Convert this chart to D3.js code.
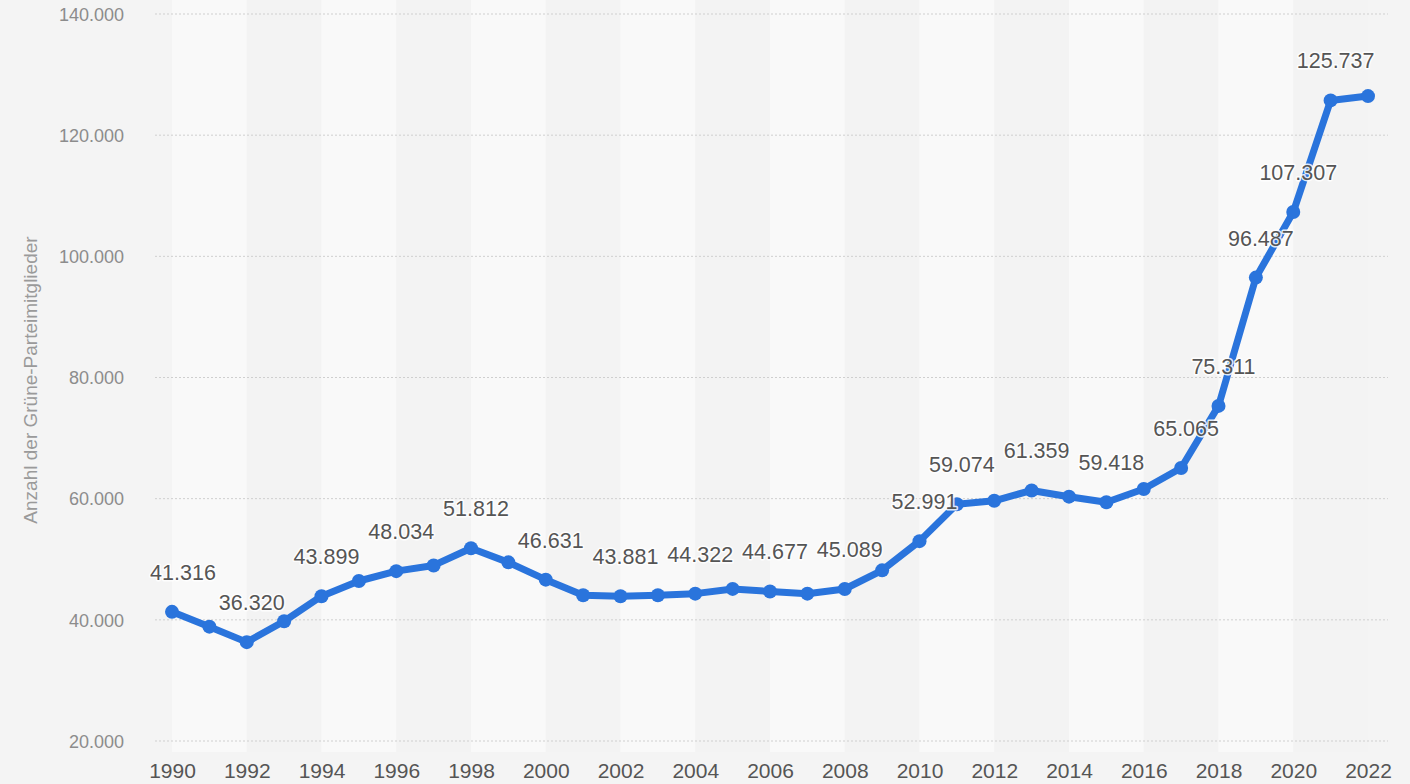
<!DOCTYPE html>
<html>
<head>
<meta charset="utf-8">
<script src="https://cdn.jsdelivr.net/npm/d3@7"></script>
<style>
  html, body { margin: 0; padding: 0; background: #f4f4f4; }
  svg { display: block; font-family: "Liberation Sans", Arial, Helvetica, sans-serif; }
</style>
</head>
<body>
<svg id="chart" width="1410" height="784"></svg>
<script>
const years = [1990,1991,1992,1993,1994,1995,1996,1997,1998,1999,2000,2001,2002,2003,2004,2005,2006,2007,2008,2009,2010,2011,2012,2013,2014,2015,2016,2017,2018,2019,2020,2021,2022];
const members = [41316,38873,36320,39761,43899,46410,48034,48980,51812,49488,46631,44053,43881,44052,44322,45105,44677,44320,45089,48171,52991,59074,59653,61359,60329,59418,61596,65065,75311,96487,107307,125737,126451];
const labeledYears = [1990,1992,1994,1996,1998,2000,2002,2004,2006,2008,2010,2011,2013,2015,2017,2018,2019,2020,2021];
const yTicks = [20000,40000,60000,80000,100000,120000,140000];
const xTicks = [1990,1992,1994,1996,1998,2000,2002,2004,2006,2008,2010,2012,2014,2016,2018,2020,2022];
const yTitle = "Anzahl der Grüne-Parteimitglieder";

const data = years.map((y, i) => ({ year: y, value: members[i] }));
const de = d3.formatLocale({ decimal: ",", thousands: ".", grouping: [3], currency: ["", " €"] });
const fmt = de.format(",.0f");

const svg = d3.select("#chart");
const plotLeft = 155, plotRight = 1388, plotTop = 0, plotBottom = 752;

const x = d3.scaleLinear().domain([1990, 2022]).range([172, 1368]);
const y = d3.scaleLinear().domain([20000, 140000]).range([741, 14]);

// background
svg.append("rect").attr("x", 0).attr("y", 0).attr("width", 1410).attr("height", 784).attr("fill", "#f4f4f4");

// alternating bands
const bandStarts = d3.range(1990, 2022, 2);
svg.append("g").selectAll("rect").data(bandStarts).join("rect")
  .attr("x", d => x(d))
  .attr("y", plotTop)
  .attr("width", d => x(d + 2) - x(d))
  .attr("height", plotBottom - plotTop)
  .attr("fill", (d, i) => i % 2 === 0 ? "#f9f9f9" : "#f3f3f3");

// grid lines
svg.append("g").selectAll("line").data(yTicks).join("line")
  .attr("x1", plotLeft).attr("x2", plotRight)
  .attr("y1", d => y(d)).attr("y2", d => y(d))
  .attr("stroke", "#cfcfcf").attr("stroke-width", 1)
  .attr("stroke-dasharray", "2,2");

// y axis
const yAxis = d3.axisLeft(y).tickValues(yTicks).tickFormat(fmt).tickSize(0).tickPadding(0);
const gy = svg.append("g").attr("transform", "translate(124,0)").call(yAxis);
gy.select(".domain").remove();
gy.selectAll("text").attr("fill", "#8c8c8c").attr("font-size", "18px")
  .attr("font-family", "'Liberation Sans', Arial, sans-serif").attr("dy", "0.35em");

// x axis
const xAxis = d3.axisBottom(x).tickValues(xTicks).tickFormat(d3.format("d")).tickSize(0).tickPadding(0);
const gx = svg.append("g").attr("transform", "translate(0,771)").call(xAxis);
gx.select(".domain").remove();
gx.selectAll("text").attr("fill", "#555").attr("font-size", "21px")
  .attr("font-family", "'Liberation Sans', Arial, sans-serif").attr("dy", "0.35em");

// y title
svg.append("text")
  .attr("transform", `translate(30,${380}) rotate(-90)`)
  .attr("text-anchor", "middle")
  .attr("dominant-baseline", "central")
  .attr("fill", "#9a9a9a")
  .attr("font-size", "19px")
  .text(yTitle);

// line
const lineColor = "#2a74dc";
svg.append("path").datum(data)
  .attr("fill", "none")
  .attr("stroke", lineColor)
  .attr("stroke-width", 7)
  .attr("stroke-linejoin", "round")
  .attr("stroke-linecap", "round")
  .attr("d", d3.line().x(d => x(d.year)).y(d => y(d.value)));

svg.append("g").selectAll("circle").data(data).join("circle")
  .attr("cx", d => x(d.year)).attr("cy", d => y(d.value))
  .attr("r", 7).attr("fill", lineColor);

// data labels
const labeled = data.filter(d => labeledYears.includes(d.year));
svg.append("g").selectAll("text").data(labeled).join("text")
  .attr("x", d => x(d.year) + (d.year === 1990 ? 11 : 5))
  .attr("y", d => y(d.value) - 39)
  .attr("text-anchor", "middle")
  .attr("dominant-baseline", "central")
  .attr("font-size", "21.5px")
  .attr("fill", "#555")
  .attr("stroke", "#ffffff")
  .attr("stroke-width", 3)
  .attr("stroke-opacity", 0.85)
  .attr("stroke-linejoin", "round")
  .attr("paint-order", "stroke")
  .text(d => fmt(d.value));
</script>
</body>
</html>
